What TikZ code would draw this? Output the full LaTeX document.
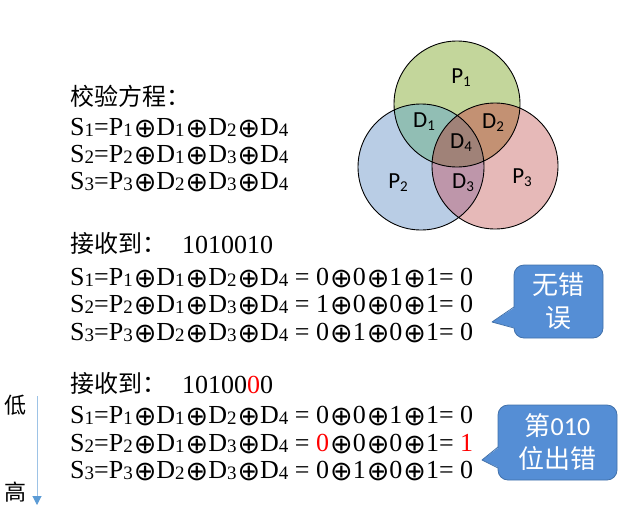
\documentclass[tikz,border=0pt]{standalone}
\usepackage{fontspec}
\usepackage{graphicx}
\setmainfont{Liberation Serif}
\newfontfamily\cjk{Noto Sans CJK SC}
\newfontfamily\calib{Carlito}
\newfontfamily\symf{DejaVu Sans}
\usetikzlibrary{arrows.meta}
\definecolor{pone}{RGB}{195,214,155}
\definecolor{ptwo}{RGB}{185,205,229}
\definecolor{pthree}{RGB}{230,185,184}
\definecolor{done}{RGB}{145,190,180}
\definecolor{dtwo}{RGB}{195,145,115}
\definecolor{dthree}{RGB}{190,150,170}
\definecolor{dfour}{RGB}{160,130,120}
\definecolor{bubfill}{RGB}{85,142,213}
\definecolor{bubdraw}{RGB}{65,113,170}
\definecolor{arrline}{RGB}{157,195,230}
\definecolor{arrhead}{RGB}{91,155,213}
\definecolor{errred}{RGB}{255,0,0}
\newcommand\sbx[1]{\raisebox{-1pt}{\fontsize{19}{19}\selectfont #1}}
\newcommand\xo{\hspace{1pt}\raisebox{-2pt}{\symf\fontsize{27}{27}\selectfont ⊕}}
\newcommand\vsub[1]{\raisebox{-3pt}{\fontsize{15}{15}\selectfont #1}}
\begin{document}
\begin{tikzpicture}[x=1pt,y=-1pt,
  eq/.style={anchor=base west,inner sep=0pt,font=\fontsize{26}{28}\selectfont},
  cjkline/.style={anchor=base west,inner sep=0pt,font=\cjk\fontsize{24}{28}\selectfont},
  vlab/.style={inner sep=0pt,font=\calib\fontsize{23}{23}\selectfont},
  bubble/.style={draw=bubdraw,fill=bubfill,rounded corners=10pt,line width=0.8pt},
  bubtext/.style={text=white,font=\cjk\fontsize{26}{33}\selectfont,align=center,inner sep=0pt},
  side/.style={inner sep=0pt,font=\cjk\fontsize{22}{22}\selectfont}]
\useasboundingbox (0,0) rectangle (628,517);
% Venn diagram
\coordinate (c1) at (457,104);
\coordinate (c2) at (421,167);
\coordinate (c3) at (495,166);
\def\R{63pt}
\fill[pone] (c1) circle[radius=\R];
\fill[ptwo] (c2) circle[radius=\R];
\fill[pthree] (c3) circle[radius=\R];
\begin{scope}\clip (c1) circle[radius=\R]; \fill[done] (c2) circle[radius=\R];\end{scope}
\begin{scope}\clip (c1) circle[radius=\R]; \fill[dtwo] (c3) circle[radius=\R];\end{scope}
\begin{scope}\clip (c2) circle[radius=\R]; \fill[dthree] (c3) circle[radius=\R];\end{scope}
\begin{scope}\clip (c1) circle[radius=\R]; \clip (c2) circle[radius=\R]; \fill[dfour] (c3) circle[radius=\R];\end{scope}
\draw[line width=0.9pt] (c1) circle[radius=\R] (c2) circle[radius=\R] (c3) circle[radius=\R];
\node[vlab] (lp1) at (461,78) {P\vsub{1}};
\node[vlab] (ld1) at (424,122) {D\vsub{1}};
\node[vlab] (ld2) at (493,123) {D\vsub{2}};
\node[vlab] (ld4) at (461,143) {D\vsub{4}};
\node[vlab] (lp2) at (398,183) {P\vsub{2}};
\node[vlab] (ld3) at (463,183) {D\vsub{3}};
\node[vlab] (lp3) at (522,178) {P\vsub{3}};
% Block 1
\node[cjkline] (t1) at (70,105) {校验方程：};
\node[eq] (a1) at (70,135) {S\sbx{1}=P\sbx{1}\xo D\sbx{1}\xo D\sbx{2}\xo D\sbx{4}};
\node[eq] (a2) at (70,162) {S\sbx{2}=P\sbx{2}\xo D\sbx{1}\xo D\sbx{3}\xo D\sbx{4}};
\node[eq] (a3) at (70,189) {S\sbx{3}=P\sbx{3}\xo D\sbx{2}\xo D\sbx{3}\xo D\sbx{4}};
% Block 2
\node[cjkline] (t2) at (70,252) {接收到：};
\node[eq] (n2) at (182,253) {1010010};
\node[eq] (b1) at (70,285) {S\sbx{1}=P\sbx{1}\xo D\sbx{1}\xo D\sbx{2}\xo D\sbx{4} = 0\xo 0\xo 1\xo 1= 0};
\node[eq] (b2) at (70,312) {S\sbx{2}=P\sbx{2}\xo D\sbx{1}\xo D\sbx{3}\xo D\sbx{4} = 1\xo 0\xo 0\xo 1= 0};
\node[eq] (b3) at (70,340) {S\sbx{3}=P\sbx{3}\xo D\sbx{2}\xo D\sbx{3}\xo D\sbx{4} = 0\xo 1\xo 0\xo 1= 0};
% Block 3
\node[cjkline] (t3) at (70,392) {接收到：};
\node[eq] (n3) at (182,393) {10100\textcolor{errred}{0}0};
\node[eq] (e1) at (70,423) {S\sbx{1}=P\sbx{1}\xo D\sbx{1}\xo D\sbx{2}\xo D\sbx{4} = 0\xo 0\xo 1\xo 1= 0};
\node[eq] (e2) at (70,451) {S\sbx{2}=P\sbx{2}\xo D\sbx{1}\xo D\sbx{3}\xo D\sbx{4} = \textcolor{errred}{0}\xo 0\xo 0\xo 1= \textcolor{errred}{1}};
\node[eq] (e3) at (70,478) {S\sbx{3}=P\sbx{3}\xo D\sbx{2}\xo D\sbx{3}\xo D\sbx{4} = 0\xo 1\xo 0\xo 1= 0};
% low/high arrow
\node[side] (low) at (16,405) {低};
\node[side] (high) at (16,492) {高};
\coordinate (arrtop) at (37,396);
\coordinate (arrbot) at (37,505);
\draw[arrline,line width=1pt,-{Triangle[width=9pt,length=9pt,color=arrhead,fill=arrhead]}] (arrtop) -- (arrbot);
% bubble 1
\node[bubble,minimum width=89pt,minimum height=73pt] (bub1) at (558.5,301.5) {};
\coordinate (tip1) at (492,322);
\fill[bubfill] (515.5,307) -- (tip1) -- (515.5,328) -- cycle;
\draw[bubdraw,line width=0.8pt,line join=round] (514,307) -- (tip1) -- (514,328);
\node[bubtext] (bt1) at (bub1.center) {无错\\误};
% bubble 2
\node[bubble,minimum width=119pt,minimum height=75pt] (bub2) at (557.5,442.5) {};
\coordinate (tip2) at (482,460);
\fill[bubfill] (499.5,447) -- (tip2) -- (499.5,468) -- cycle;
\draw[bubdraw,line width=0.8pt,line join=round] (498,447) -- (tip2) -- (498,468);
\node[bubtext] (bt2) at (bub2.center) {第{\calib 010}\\位出错};
\end{tikzpicture}
\end{document}
